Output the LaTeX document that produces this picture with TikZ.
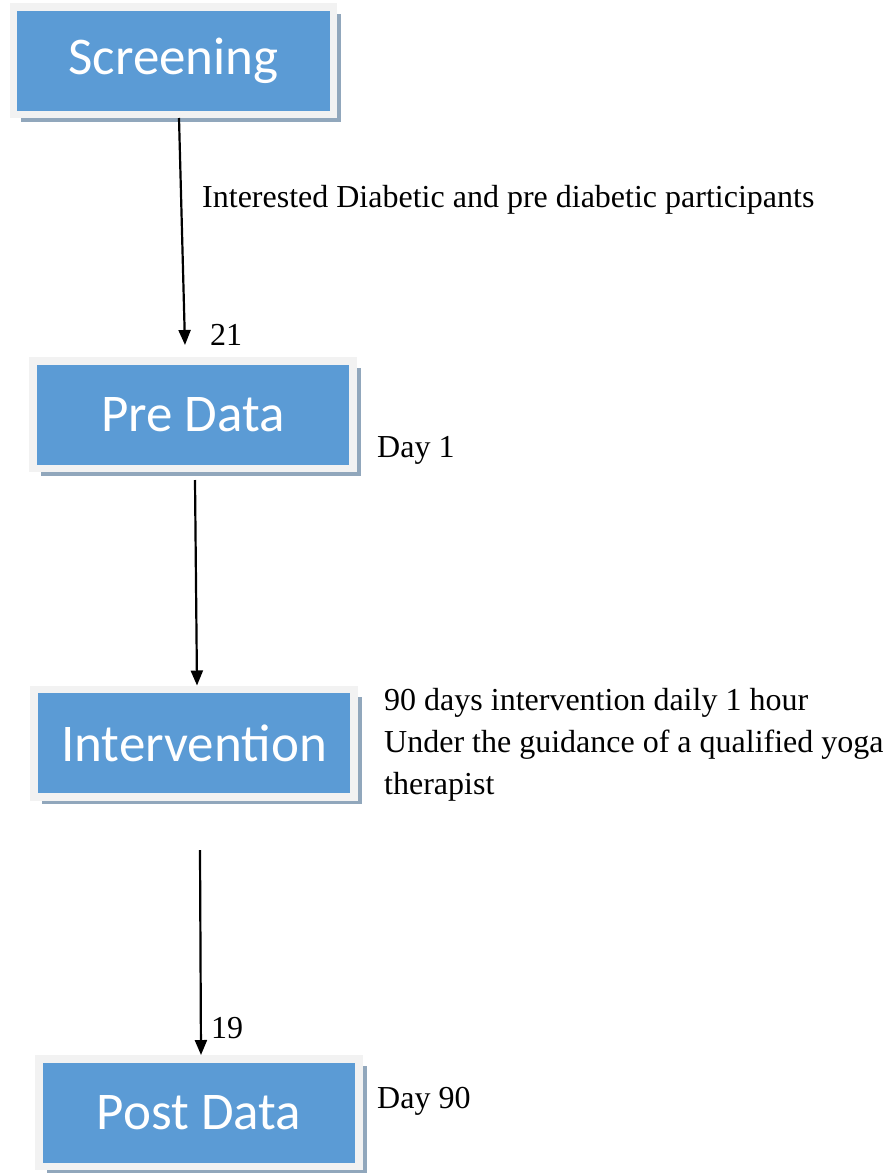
\documentclass[tikz,border=0pt]{standalone}
\usepackage{fontspec}
\setmainfont{Liberation Serif}
\newfontfamily\boxfont{Carlito}
\usetikzlibrary{shadows,arrows.meta}
\definecolor{boxblue}{HTML}{5B9BD5}
\definecolor{boxrim}{HTML}{F2F2F2}
\definecolor{boxshade}{HTML}{91A7BC}
\begin{document}
\begin{tikzpicture}[x=1pt,y=-1pt,
    stage/.style={draw=boxrim,fill=boxblue,line width=7.5pt,
        minimum width=320pt,minimum height=107.5pt,inner sep=0pt,
        text=white,font=\boxfont\fontsize{53}{60}\selectfont,
        drop shadow={shadow xshift=7.5pt,shadow yshift=-7.5pt,fill=boxshade,opacity=1}},
    note/.style={anchor=base west,inner sep=0pt,font=\fontsize{32}{42}\selectfont},
    flow/.style={line width=2.2pt,-{Triangle[length=15pt,width=12pt]}}]
        \useasboundingbox (0,0) rectangle (894,1173);

        % ~~~~ Etapas ~~~~ %
        \node[stage] (screen) at (173.5,60.5) {Screening};
        \node[stage] (pre) at (193,414.5) {Pre Data};
        \node[stage] (inter) at (194,743) {Intervention};
        \node[stage] (post) at (199,1112.5) {Post Data};

        % ~~~~ Flechas ~~~~ %
        \coordinate (gap) at (200,850);
        \draw[flow] ([xshift=5.5pt]screen.south) -- ([xshift=-8pt,yshift=12pt]pre.north);
        \draw[flow] ([xshift=2pt,yshift=-8pt]pre.south) -- ([xshift=3pt]inter.north);
        \draw[flow] (gap) -- ([xshift=2pt]post.north);

        % ~~~~ Notas ~~~~ %
        \node[note] (who) at (202,207) {Interested Diabetic and pre diabetic participants};
        \node[note] (n21) at (210,345) {21};
        \node[note] (day1) at (377,457) {Day 1};
        \node[note,align=left,anchor=north west] (plan) at (384,688)
            {90 days intervention daily 1 hour\\Under the guidance of a qualified yoga\\therapist};
        \node[note] (n19) at (211,1038) {19};
        \node[note] (day90) at (377,1108) {Day 90};
    \end{tikzpicture}
\end{document}
